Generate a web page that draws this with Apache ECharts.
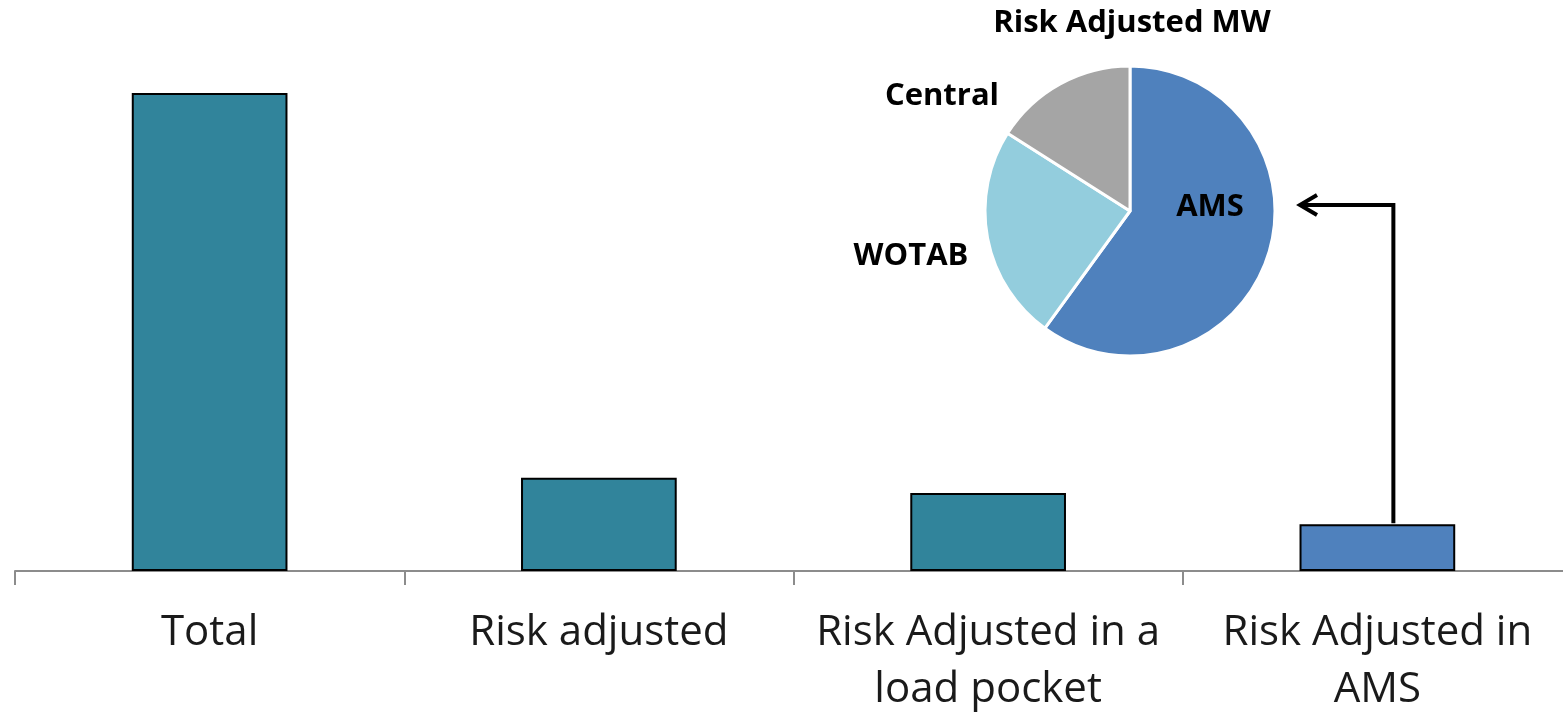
<!DOCTYPE html>
<html>
<head>
<meta charset="utf-8">
<script src="https://cdn.jsdelivr.net/npm/echarts@6/dist/echarts.min.js"></script>
<style>
  html, body { margin: 0; padding: 0; background: #fff; }
  #chart { width: 1563px; height: 715px; }
</style>
</head>
<body>
<div id="chart"></div>
<script>
  // bar data (relative MW)
  const categories = ['Total', 'Risk adjusted', 'Risk Adjusted in a\nload pocket', 'Risk Adjusted in\nAMS']
  const barValues = [100, 19.5, 16.3, 9.8]
  const barColors = ['#31849b', '#31849b', '#31849b', '#4f81bd']

  // pie data (share of risk adjusted MW)
  const pieNames = ['AMS', 'WOTAB', 'Central']
  const pieValues = [60, 24, 16]
  const pieColors = ['#4f81bd', '#93cddd', '#a5a5a5']

  const pieCenter = [1130, 211]
  const pieRadius = 145
  // label spots relative to pie centre
  const pieLabelSpots = {
    AMS: [80, -4],
    WOTAB: [-219, 45],
    Central: [-188, -115],
  }

  const chart = echarts.init(document.getElementById('chart'))

  let option = {
    animation: false,
    title: {
      text: 'Risk Adjusted MW',
      left: 1127,
      top: 3,
      textAlign: 'center',
      textStyle: {
        fontFamily: 'Open Sans',
        fontWeight: 'bold',
        fontSize: 31,
        color: '#000',
      },
    },
    grid: {
      left: 15,
      right: -9,
      top: 93,
      bottom: 144,
      containLabel: false,
      outerBoundsMode: 'none',
    },
    xAxis: {
      type: 'category',
      data: categories,
      axisLine: { lineStyle: { color: '#8c8c8c', width: 2 } },
      axisTick: { show: true, length: 14, lineStyle: { color: '#8c8c8c', width: 2 } },
      axisLabel: {
        color: '#1a1a1a',
        fontFamily: 'Open Sans',
        fontSize: 42,
        lineHeight: 57,
        margin: 34,
        interval: 0,
      },
    },
    yAxis: {
      type: 'value',
      min: 0,
      max: 100,
      show: false,
      splitLine: { show: false },
    },
    series: [
      {
        type: 'bar',
        barWidth: '40%',
        data: barValues.map((v, i) => ({
          value: v,
          itemStyle: { color: barColors[i], borderColor: '#000', borderWidth: 2 },
        })),
      },
      {
        type: 'pie',
        center: pieCenter,
        radius: pieRadius,
        startAngle: 90,
        clockwise: true,
        data: pieNames.map((n, i) => ({
          name: n,
          value: pieValues[i],
          itemStyle: { color: pieColors[i] },
        })),
        itemStyle: { borderColor: '#fff', borderWidth: 3 },
        label: {
          show: true,
          position: 'outside',
          formatter: '{b}',
          fontFamily: 'Open Sans',
          fontWeight: 'bold',
          fontSize: 31,
          color: '#000',
        },
        labelLine: { show: false },
        labelLayout: function (params) {
          const name = pieNames[params.dataIndex]
          const d = pieLabelSpots[name]
          return {
            x: pieCenter[0] + d[0],
            y: pieCenter[1] + d[1],
            align: 'center',
            verticalAlign: 'middle',
          }
        },
      },
    ],
  }
  chart.setOption(option)

  // arrow from the AMS bar up to the pie
  const barTop = chart.convertToPixel({ xAxisIndex: 0, yAxisIndex: 0 }, [categories[3], barValues[3]])
  const ax = barTop[0] + 16
  const ay = pieCenter[1] - 6
  const tipX = pieCenter[0] + pieRadius + 25
  chart.setOption({
    graphic: [
      {
        type: 'polyline',
        shape: { points: [[ax, barTop[1] - 1], [ax, ay], [tipX, ay]] },
        style: { stroke: '#000', lineWidth: 4, fill: null },
        z: 10,
      },
      {
        type: 'polyline',
        shape: { points: [[tipX + 17, ay - 10], [tipX, ay], [tipX + 17, ay + 10]] },
        style: { stroke: '#000', lineWidth: 4, fill: null },
        z: 10,
      },
    ],
  })
</script>
</body>
</html>
